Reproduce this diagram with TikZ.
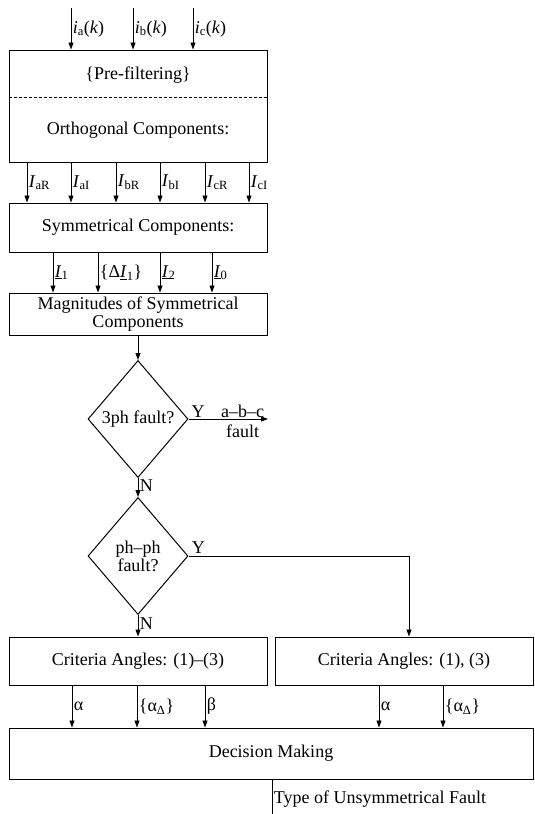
\documentclass[tikz,border=0pt]{standalone}
\usepackage{fontspec}
\setmainfont{Liberation Serif}
\usetikzlibrary{positioning,arrows.meta,calc,shapes.geometric}

\begin{document}
\begin{tikzpicture}[x=1pt,y=-1pt,font=\fontsize{18}{18}\selectfont,
  blk/.style={draw,rectangle,line width=1pt,inner sep=0pt},
  dec/.style={draw,diamond,line width=1pt,inner sep=0pt,minimum width=100pt,minimum height=117pt,align=center},
  arr/.style={line width=0.8pt,-{Triangle[length=7pt,width=5pt]}},
  lbl/.style={right,inner sep=1.5pt}]
  \useasboundingbox (0,0) rectangle (535,814);
  % filtering and phasor estimation
  \node[blk,minimum width=258pt,minimum height=112pt] (ortho) at (138,106) {};
  \node (prefilt) at (138,75) {\{Pre-filtering\}};
  \node (orthtxt) at (138,130) {Orthogonal Components:};
  \draw[line width=0.7pt,dash pattern=on 3pt off 2pt] ($(ortho.west)+(0,-9)$) -- ($(ortho.east)+(0,-9)$);
  \node[blk,minimum width=258pt,minimum height=49pt] (sym) at (138,227.5) {Symmetrical Components:};
  \node[blk,minimum width=258pt,minimum height=42pt,align=center] (mag) at (138,314) {Magnitudes of Symmetrical\\Components};
  % input currents
  \coordinate (ina) at (71,8);
  \coordinate (inb) at (133,8);
  \coordinate (inc) at (193,8);
  \draw[arr] (ina) -- node[lbl]{\textit{i}\textsubscript{a}(\textit{k})} (ortho.north -| ina);
  \draw[arr] (inb) -- node[lbl]{\textit{i}\textsubscript{b}(\textit{k})} (ortho.north -| inb);
  \draw[arr] (inc) -- node[lbl]{\textit{i}\textsubscript{c}(\textit{k})} (ortho.north -| inc);
  % real and imaginary parts
  \foreach \x/\s [count=\i] in {27/aR,71/aI,116/bR,160/bI,205/cR,249/cI}{
    \coordinate (re\i) at (\x,0);
    \draw[arr] (ortho.south -| re\i) -- node[lbl]{\textit{I}\textsubscript{\s}} (sym.north -| re\i);
  }
  % sequence quantities
  \coordinate (sq1) at (53,0);
  \coordinate (sq2) at (98,0);
  \coordinate (sq3) at (160,0);
  \coordinate (sq4) at (212,0);
  \draw[arr] (sym.south -| sq1) -- node[lbl]{\underline{\textit{I}}\textsubscript{1}} (mag.north -| sq1);
  \draw[arr] (sym.south -| sq2) -- node[lbl]{\{Δ\underline{\textit{I}}\textsubscript{1}\}} (mag.north -| sq2);
  \draw[arr] (sym.south -| sq3) -- node[lbl]{\underline{\textit{I}}\textsubscript{2}} (mag.north -| sq3);
  \draw[arr] (sym.south -| sq4) -- node[lbl]{\underline{\textit{I}}\textsubscript{0}} (mag.north -| sq4);
  % fault type decisions
  \node[dec] (d3ph) at (138,419) {3ph fault?};
  \node[dec] (dphph) at (138,556) {ph–ph\\fault?};
  \draw[arr] (mag) -- (d3ph);
  \draw[arr] (d3ph) -- node[lbl,pos=0.4]{N} (dphph);
  \coordinate (abc) at (268,419);
  \draw[arr] (d3ph.east) -- node[above,pos=0.12,inner sep=1pt]{Y} node[above,pos=0.68,inner sep=1pt]{a–b–c}
        node[below,pos=0.68,inner sep=5pt]{fault} (abc);
  \node[blk,minimum width=258pt,minimum height=48pt] (crit3) at (138,661) {Criteria Angles: (1)–(3)};
  \node[blk,minimum width=258pt,minimum height=48pt] (crit13) at (404,661) {Criteria Angles: (1), (3)};
  \draw[arr] (dphph) -- node[lbl,pos=0.4]{N} (crit3);
  \coordinate (ybr) at (409,0);
  \draw[arr] (dphph.east) -- node[above,pos=0.045,inner sep=2pt]{Y} (dphph.east -| ybr) -- (crit13.north -| ybr);
  % angles to the decision block
  \node[blk,minimum width=524pt,minimum height=51pt] (decide) at (271,753.5) {Decision Making};
  \coordinate (an1) at (72,0);
  \coordinate (an2) at (137,0);
  \coordinate (an3) at (205,0);
  \coordinate (an4) at (379,0);
  \coordinate (an5) at (443,0);
  \draw[arr] (crit3.south -| an1) -- node[lbl]{α} (decide.north -| an1);
  \draw[arr] (crit3.south -| an2) -- node[lbl]{\{α\textsubscript{Δ}\}} (decide.north -| an2);
  \draw[arr] (crit3.south -| an3) -- node[lbl]{β} (decide.north -| an3);
  \draw[arr] (crit13.south -| an4) -- node[lbl]{α} (decide.north -| an4);
  \draw[arr] (crit13.south -| an5) -- node[lbl]{\{α\textsubscript{Δ}\}} (decide.north -| an5);
  \coordinate (typ) at (272,822);
  \draw[arr] (decide.south -| typ) -- node[lbl,pos=0.45]{Type of Unsymmetrical Fault} (typ);
\end{tikzpicture}
\end{document}
